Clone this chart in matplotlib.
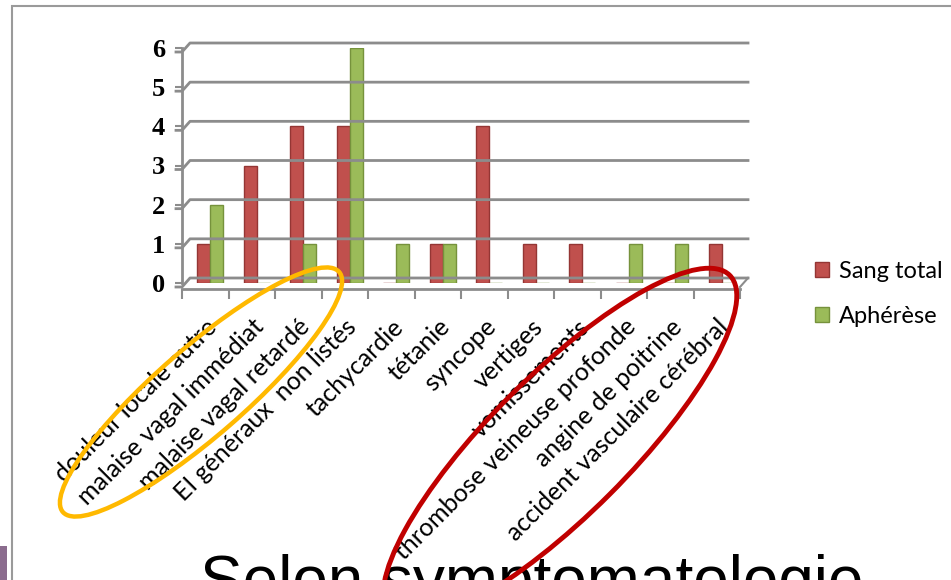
import matplotlib
matplotlib.use("Agg")
import matplotlib.pyplot as plt
import numpy as np
from matplotlib.patches import Ellipse, Rectangle
from matplotlib.lines import Line2D
from matplotlib.transforms import IdentityTransform

# Données
categories = ['douleur locale autre', 'malaise vagal immédiat', 'malaise vagal retardé',
              'EI généraux  non listés', 'tachycardie', 'tétanie', 'syncope', 'vertiges',
              'vomissements', 'thrombose veineuse profonde', 'angine de poitrine',
              'accident vasculaire cérébral']
sang_total = [1, 3, 4, 4, 0, 1, 4, 1, 1, 0, 0, 1]
apherese = [2, 0, 1, 6, 1, 1, 0, 0, 0, 1, 1, 0]
y_ticks = [0, 1, 2, 3, 4, 5, 6]

W, H = 951, 580
fig = plt.figure(figsize=(W / 100, H / 100), dpi=100)
fig.patch.set_facecolor('white')

def px(x, y):
    # coordonnées image (origine en haut à gauche) -> pixels écran
    return x, H - y

ax = fig.add_axes([182 / W, (H - 283) / H, 558 / W, 235 / H])
ax.set_xlim(-0.5, len(categories) - 0.5)
ax.set_ylim(0, 6)
ax.set_facecolor('none')

x = np.arange(len(categories))
bw = 0.28
shift = 0.11
ax.bar(x + shift - bw / 2, sang_total, width=bw, color='#C0504D', edgecolor='#943634',
       linewidth=1, label='Sang total', zorder=3)
ax.bar(x + shift + bw / 2, apherese, width=bw, color='#9BBB59', edgecolor='#76923C',
       linewidth=1, label='Aphérèse', zorder=3)

# axes
for s in ['top', 'right']:
    ax.spines[s].set_visible(False)
ax.spines['left'].set_color('#8c8c8c')
ax.spines['left'].set_linewidth(2)
ax.spines['bottom'].set_color('#8c8c8c')
ax.spines['bottom'].set_linewidth(2)
ax.spines['bottom'].set_position(('outward', 4))

ax.set_yticks(y_ticks)
ax.set_yticklabels([str(v) for v in y_ticks], fontfamily='Liberation Serif',
                   fontweight='bold', fontsize=19)
ax.tick_params(axis='y', length=5, width=1.5, color='#8c8c8c', pad=7)

ax.set_xticks(x)
ax.set_xticklabels(categories, rotation=45, ha='right', va='top',
                   rotation_mode='anchor', fontfamily='Lato', fontsize=18)
ax.tick_params(axis='x', which='major', length=0, pad=19)
ax.set_xticks(np.arange(-0.5, len(categories)), minor=True)
ax.tick_params(axis='x', which='minor', length=7, width=1.5, color='#8c8c8c')

# quadrillage du mur du fond (effet 3D)
for v in y_ticks:
    x0, y0 = ax.transData.transform((-0.5, v))
    x1, _ = ax.transData.transform((len(categories) - 0.5, v))
    fig.add_artist(Line2D([x0 - 6, x0, x0 + 8, x1 + 8], [y0 - 4, y0 - 4, y0 + 5, y0 + 5],
                          transform=IdentityTransform(), color='#8c8c8c', lw=2, zorder=1))
xr, yr = ax.transData.transform((len(categories) - 0.5, 0))
fig.add_artist(Line2D([xr, xr + 8], [yr - 4, yr + 5], transform=IdentityTransform(),
                      color='#8c8c8c', lw=1.5))

# légende
leg = fig.legend(handles=ax.get_legend_handles_labels()[0],
                 labels=['Sang total', 'Aphérèse'], loc='center left',
                 bbox_to_anchor=(794 / W, (H - 294) / H), frameon=False,
                 prop={'family': 'Lato', 'size': 17}, handlelength=0.6,
                 handleheight=0.6, handletextpad=0.4, labelspacing=1.0)

# cadre du graphique
fig.add_artist(Rectangle(px(12, 620), W, 614, transform=IdentityTransform(),
                         fill=False, edgecolor='#9a9a9a', lw=1.5))
fig.add_artist(Rectangle(px(0, 580), 7, 34, transform=IdentityTransform(),
                         facecolor='#8B6C8E', edgecolor='none'))

# annotations (ellipses)
fig.add_artist(Ellipse(px(201, 392), 366, 88, angle=41, transform=IdentityTransform(),
                       fill=False, edgecolor='#FFB900', lw=3.2, zorder=5))
fig.add_artist(Ellipse(px(560, 445), 480, 140, angle=45, transform=IdentityTransform(),
                       fill=False, edgecolor='#C00000', lw=3.5, zorder=5))

# titre de la diapositive (coupé en bas)
fig.text(200 / W, (H - 601) / H, 'Selon symptomatologie', fontfamily='Liberation Sans',
         fontsize=46, color='black', ha='left', va='baseline')

fig.savefig('out.png', dpi=100)
